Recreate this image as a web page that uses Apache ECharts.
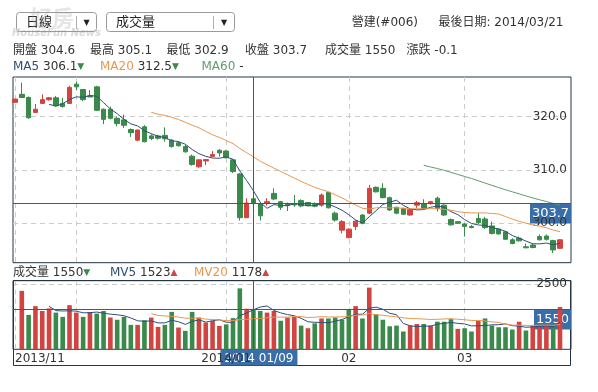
<!DOCTYPE html>
<html><head><meta charset="utf-8">
<script src="https://cdn.jsdelivr.net/npm/echarts@6/dist/echarts.min.js"></script>
<style>html,body{margin:0;padding:0;background:#fff}#c{width:598px;height:392px}</style>
</head><body><div id="c"></div><script>
// ---------- data ----------
const dates = [
 '2013/11/20','2013/11/21','2013/11/22','2013/11/25','2013/11/26','2013/11/27','2013/11/28','2013/11/29',
 '2013/12/02','2013/12/03','2013/12/04','2013/12/05','2013/12/06','2013/12/09','2013/12/10','2013/12/11','2013/12/12','2013/12/13',
 '2013/12/16','2013/12/17','2013/12/18','2013/12/19','2013/12/20','2013/12/23','2013/12/24','2013/12/25','2013/12/26','2013/12/27','2013/12/30','2013/12/31',
 '2014/01/02','2014/01/03','2014/01/06','2014/01/07','2014/01/08','2014/01/09','2014/01/10','2014/01/13','2014/01/14','2014/01/15','2014/01/16','2014/01/17',
 '2014/01/20','2014/01/21','2014/01/22','2014/01/23','2014/01/24','2014/01/27','2014/01/28',
 '2014/02/05','2014/02/06','2014/02/07','2014/02/10','2014/02/11','2014/02/12','2014/02/13','2014/02/14','2014/02/17','2014/02/18','2014/02/19',
 '2014/02/20','2014/02/21','2014/02/24','2014/02/25','2014/02/26','2014/02/27',
 '2014/03/03','2014/03/04','2014/03/05','2014/03/06','2014/03/07','2014/03/10','2014/03/11','2014/03/12','2014/03/13','2014/03/14',
 '2014/03/17','2014/03/18','2014/03/19','2014/03/20','2014/03/21'
];
const open = [
 322.7,324.2,323.6,320.8,322.5,323.2,323.55,322.5,322.5,326.1,
 325.1,323.9,325.6,321.4,321.4,319.7,319.4,317.6,315.6,318.1,
 316.4,316.4,316.5,315.6,315.1,314.4,312.6,310.6,311.7,312.55,
 313.7,313.55,311.9,309.25,301.05,304.6,303.7,303.75,305.6,304.05,
 303.7,303.6,304.25,303.9,303.5,303.4,305.8,301.9,298.7,297.3,
 299.4,301.55,301.9,306.75,306.55,304.8,303.0,302.8,301.55,303.4,
 303.7,303.7,304.7,303.4,300.7,300.3,299.85,299.4,300.9,300.8,
 299.5,298.9,298.4,296.9,297.2,295.6,295.9,297.5,297.6,296.75,295.3
];
const close = [
 323.3,323.6,319.8,321.4,323.2,323.55,322.05,321.9,325.5,325.6,
 323.2,323.7,321.2,319.5,319.7,318.7,318.4,317.0,317.5,315.3,
 315.9,315.95,315.85,314.4,314.55,313.4,311.05,311.9,311.95,312.9,
 313.2,312.3,309.7,301.05,303.8,303.7,301.4,304.05,304.55,303.0,
 303.4,303.45,303.25,303.3,303.2,305.3,302.9,300.6,300.3,298.9,
 300.4,300.0,306.55,305.9,304.8,302.5,301.9,301.7,302.6,303.85,
 302.8,304.05,302.8,301.55,299.7,300.0,299.4,299.2,300.1,299.2,
 298.1,298.0,297.0,296.2,296.7,295.4,295.45,296.9,297.0,295.0,296.9
];
const low = [
 322.6,323.5,319.6,320.7,322.4,323.0,321.9,321.7,322.4,325.0,
 322.9,323.7,321.1,318.6,319.5,318.2,317.9,316.2,315.4,315.2,
 315.6,315.7,315.3,314.2,314.4,313.3,310.8,310.4,310.9,312.4,
 312.5,312.2,309.4,300.5,301.0,302.9,300.5,303.3,304.4,302.5,
 302.3,303.1,303.0,303.2,303.0,303.1,302.8,300.3,298.1,297.2,
 298.7,299.8,301.7,305.8,304.7,302.3,301.7,301.6,301.4,302.9,
 302.6,303.5,302.2,301.4,299.55,299.9,297.5,299.05,299.85,298.9,
 297.9,297.9,296.9,296.05,296.6,295.3,295.3,296.75,296.75,294.4,295.2
];
const high = [
 323.4,326.4,323.8,322.4,324.2,323.7,323.9,323.55,325.8,326.55,
 325.2,325.0,325.8,321.55,321.9,320.0,320.4,317.8,317.6,318.4,
 316.7,316.6,318.0,315.8,315.4,314.7,312.9,312.0,312.05,313.55,
 313.9,313.7,312.05,309.4,304.7,305.1,303.9,304.7,306.55,304.2,
 303.9,305.3,304.5,304.0,303.9,305.6,305.9,302.2,300.6,299.05,
 300.6,301.7,307.2,306.9,307.5,305.0,303.1,302.9,302.8,304.2,
 304.5,304.2,305.0,303.55,300.9,300.4,300.0,299.7,301.9,301.2,
 300.3,299.05,298.55,297.2,297.5,296.2,296.2,297.9,297.9,296.9,297.0
];
const volume = [
 null,
 2249,1324,1661,1474,1574,1412,1249,1698,1412,1249,
 1436,1374,1474,1224,1137,1248,940,940,1120,1222,
 863,940,1440,838,710,1440,1222,1030,1094,901,
 960,1200,2345,1560,1550,1474,1412,1474,1099,1224,
 1249,912,811,999,1187,1187,1224,1137,1537,1661,
 1187,2374,1349,1137,886,912,686,912,974,974,
 912,1062,1062,1161,787,811,686,1099,1187,912,
 849,849,761,1062,724,912,912,912,849,1624
];
// 1 = close above previous close (red volume bar), 0 = below (green)
const volUp = [
 1,
 1,0,1,1,1,0,0,1,1,0,
 1,0,0,1,0,0,0,1,0,1,
 1,0,0,1,0,0,1,1,1,1,
 0,0,0,1,0,0,1,1,0,1,
 1,0,1,0,1,0,0,0,0,1,
 0,1,0,0,0,0,0,1,1,0,
 1,0,0,0,1,0,0,1,0,0,
 0,0,0,1,0,1,1,1,0,1
];
const xTickIndex = [0, 9, 31, 49, 66];
const xTickText  = ['2013/11', '', '2014/01', '02', '03'];
const crossIndex = 35;
const stockName = '營建(#006)';
const lastDate = '2014/03/21';
const priceRange = [292.6, 327.45];
const volRange = [0, 2640];

// ---------- styling ----------
const FONT = '"DejaVu Sans","Noto Sans CJK TC",sans-serif';
const RED = '#d1443f', GREEN = '#3a8a4b';
const C_MA5 = '#2f4d78', C_MA20 = '#e8964e', C_MA60 = '#5f9c6c';
const BORDER = '#243545', GRIDC = '#cccccc', CROSS = '#3f5b73', BOX = '#3a6ea8', TXT = '#333333';

function ma(arr, n) {
  return arr.map((v, i) => {
    if (i < n) return '-';
    let s = 0;
    for (let k = i - n + 1; k <= i; k++) { if (arr[k] == null) return '-'; s += arr[k]; }
    return s / n;
  });
}
const ma5 = ma(close, 5), ma20 = ma(close, 20), ma60 = ma(close, 60);
const mv5 = ma(volume, 5), mv20 = ma(volume, 20);
const ohlc = open.map((o, i) => [o, close[i], low[i], high[i]]);
const volData = volume.map((v, i) => v == null ? '-' : { value: v, itemStyle: { color: volUp[i] ? RED : GREEN } });
const tickSet = new Set(xTickIndex);
const labelOf = {}; xTickIndex.forEach((k, j) => { if (xTickText[j]) labelOf[k] = xTickText[j]; });

const chart = echarts.init(document.getElementById('c'));
const dash = { color: GRIDC, type: [5, 4], width: 1 };
const hideAx = { show: false };
const crossLine = (obj) => ({ symbol: ['none', 'none'], silent: true, animation: false, label: { show: false },
  lineStyle: { color: CROSS, width: 1, type: 'solid' }, data: [obj] });
const lineS = (name, data, color, xi, yi) => ({ name, type: 'line', data, xAxisIndex: xi, yAxisIndex: yi,
  showSymbol: false, symbol: 'none', lineStyle: { color, width: 1 }, itemStyle: { color }, silent: true, z: 3 });

chart.setOption({
  animation: false,
  grid: [
    { left: 13, top: 77, width: 558, height: 185.7, show: true, borderColor: BORDER, borderWidth: 1 },
    { left: 15, top: 77, width: 545, height: 185.7 },
    { left: 13, top: 280.7, width: 558, height: 68.6, show: true, borderColor: BORDER, borderWidth: 1 },
    { left: 15, top: 280.7, width: 545, height: 68.6 }
  ],
  xAxis: [
    { gridIndex: 0, type: 'value', min: 0, max: 1, show: false },
    { gridIndex: 1, type: 'category', data: dates, boundaryGap: false, axisLine: hideAx, axisTick: hideAx, axisLabel: hideAx,
      splitLine: { show: true, interval: (i) => tickSet.has(i), lineStyle: dash } },
    { gridIndex: 2, type: 'value', min: 0, max: 1, show: false },
    { gridIndex: 3, type: 'category', data: dates, boundaryGap: false, axisLine: hideAx, axisTick: hideAx,
      axisLabel: { show: true, interval: (i) => !!labelOf[i], formatter: (v, i) => labelOf[i] || '', color: TXT,
        fontSize: 12, fontFamily: FONT, margin: 4, alignMinLabel: 'left' },
      splitLine: { show: true, interval: (i) => tickSet.has(i), lineStyle: dash } }
  ],
  yAxis: [
    { gridIndex: 0, type: 'value', min: priceRange[0], max: priceRange[1], position: 'right', splitNumber: 4,
      minInterval: 10, maxInterval: 10, axisLine: hideAx, axisTick: hideAx,
      axisLabel: { inside: true, margin: 4, color: TXT, fontSize: 12, fontFamily: FONT, showMinLabel: false, showMaxLabel: false,
        formatter: (v) => Math.abs(v % 10) < 1e-6 ? v.toFixed(1) : '' },
      splitLine: { show: true, lineStyle: dash, showMinLine: false, showMaxLine: false } },
    { gridIndex: 1, type: 'value', min: priceRange[0], max: priceRange[1], show: false, splitLine: hideAx },
    { gridIndex: 2, type: 'value', min: volRange[0], max: volRange[1], position: 'right', splitNumber: 1,
      minInterval: 2500, maxInterval: 2500, axisLine: hideAx, axisTick: hideAx,
      axisLabel: { inside: true, margin: 4, color: TXT, fontSize: 12, fontFamily: FONT, showMinLabel: false, showMaxLabel: false,
        padding: [5, 0, 0, 0], formatter: (v) => v === 2500 ? '2500' : '' },
      splitLine: { show: true, lineStyle: dash, showMinLine: false, showMaxLine: false } },
    { gridIndex: 3, type: 'value', min: volRange[0], max: volRange[1], show: false, splitLine: hideAx }
  ],
  series: [
    { type: 'line', xAxisIndex: 0, yAxisIndex: 0, data: [], markLine: crossLine({ yAxis: close[crossIndex] }) },
    { type: 'candlestick', xAxisIndex: 1, yAxisIndex: 1, data: ohlc, barWidth: 5, clip: false, silent: true,
      itemStyle: { color: RED, color0: GREEN, borderColor: RED, borderColor0: GREEN, borderWidth: 1 },
      markLine: crossLine({ xAxis: dates[crossIndex] }) },
    lineS('MA5', ma5, C_MA5, 1, 1),
    lineS('MA20', ma20, C_MA20, 1, 1),
    lineS('MA60', ma60, C_MA60, 1, 1),
    { type: 'line', xAxisIndex: 2, yAxisIndex: 2, data: [], markLine: crossLine({ yAxis: volume[crossIndex] }) },
    { type: 'bar', xAxisIndex: 3, yAxisIndex: 3, data: volData, barWidth: 4.6, clip: false, silent: true,
      markLine: crossLine({ xAxis: dates[crossIndex] }) },
    lineS('MV5', mv5, C_MA5, 3, 3),
    lineS('MV20', mv20, C_MA20, 3, 3)
  ]
});

// ---------- header, labels ----------
const ci = crossIndex;
const f1 = (v) => v.toFixed(1);
const arrow = (cur, prev) => cur >= prev ? '{up|▲}' : '{dn|▼}';
const richBase = {
  t: { fill: TXT, fontSize: 12, fontFamily: FONT },
  b: { fill: C_MA5, fontSize: 12, fontFamily: FONT },
  o: { fill: C_MA20, fontSize: 12, fontFamily: FONT },
  g: { fill: C_MA60, fontSize: 12, fontFamily: FONT },
  up: { fill: RED, fontSize: 9, fontFamily: FONT },
  dn: { fill: GREEN, fontSize: 9, fontFamily: FONT }
};
const txt = (x, y, text, align) => ({ type: 'text', x, y, silent: true,
  style: { text, rich: richBase, fill: TXT, font: '12px ' + FONT, align: align || 'left', verticalAlign: 'middle' } });

const chg = close[ci] - close[ci - 1];
const px = chart.convertToPixel({ xAxisIndex: 3 }, dates[ci]);
const py = chart.convertToPixel({ yAxisIndex: 0 }, close[ci]);
const vy = chart.convertToPixel({ yAxisIndex: 2 }, volume[ci]);
const dateLbl = dates[ci].replace(/^(\d{4})\/(\d\d)\/(\d\d)$/, '$1 $2/$3');

const dropdown = (x, w, label, divX) => ({ type: 'group', silent: true, children: [
  { type: 'rect', shape: { x: x + 0.5, y: 12.5, width: w, height: 19, r: 3 }, style: { fill: '#fff', stroke: '#9a9a9a', lineWidth: 1 } },
  { type: 'line', shape: { x1: divX + 0.5, y1: 16, x2: divX + 0.5, y2: 29 }, style: { stroke: '#b0b0b0', lineWidth: 1 } },
  { type: 'text', x: x + 10, y: 22.5, style: { text: label, fill: '#222', font: '13px ' + FONT, verticalAlign: 'middle' } },
  { type: 'text', x: divX + (x + w - divX) / 2 + 0.5, y: 23, style: { text: '▼', fill: '#222', font: '8px ' + FONT, align: 'center', verticalAlign: 'middle' } }
]});

chart.setOption({ graphic: [
  dropdown(16, 80, '日線', 76),
  dropdown(106, 128, '成交量', 213),
  { type: 'text', x: 30, y: 20, silent: true, style: { text: '好房', fill: 'rgba(160,160,160,0.28)', font: 'bold 22px ' + FONT, verticalAlign: 'middle' } },
  { type: 'text', x: 12, y: 33, silent: true, style: { text: 'HouseFun News', fill: 'rgba(150,150,150,0.35)', font: 'italic bold 10px ' + FONT, verticalAlign: 'middle' } },
  txt(418, 22.5, stockName, 'right'),
  txt(563.5, 22.5, '最後日期: ' + lastDate, 'right'),
  txt(13, 50.5, '開盤 ' + f1(open[ci])),
  txt(90, 50.5, '最高 ' + f1(high[ci])),
  txt(166.5, 50.5, '最低 ' + f1(low[ci])),
  txt(245, 50.5, '收盤 ' + f1(close[ci])),
  txt(325, 50.5, '成交量 ' + volume[ci]),
  txt(406.5, 50.5, '漲跌 ' + f1(chg)),
  txt(13, 66.5, '{b|MA5} {t|' + f1(ma5[ci]) + '}' + arrow(ma5[ci], ma5[ci - 1])),
  txt(100, 66.5, '{o|MA20} {t|' + f1(ma20[ci]) + '}' + arrow(ma20[ci], ma20[ci - 1])),
  txt(201.5, 66.5, '{g|MA60} {t|' + (ma60[ci] === '-' ? '-' : f1(ma60[ci])) + '}'),
  txt(13, 272.5, '{t|成交量 ' + volume[ci] + '}' + arrow(volume[ci], volume[ci - 1])),
  txt(110, 272.5, '{b|MV5} {t|' + Math.round(mv5[ci]) + '}' + arrow(mv5[ci], mv5[ci - 1])),
  txt(194, 272.5, '{o|MV20} {t|' + Math.round(mv20[ci]) + '}' + arrow(mv20[ci], mv20[ci - 1])),
  // outer frame of volume panel incl. date strip
  { type: 'rect', silent: true, shape: { x: 13.5, y: 280.5, width: 557, height: 85 }, style: { fill: 'none', stroke: BORDER, lineWidth: 1 } },
  // value boxes on the crosshair
  { type: 'group', silent: true, children: [
    { type: 'rect', shape: { x: 530, y: py, width: 41, height: 20 }, style: { fill: BOX } },
    { type: 'text', x: 550.5, y: py + 10.5, style: { text: f1(close[ci]), fill: '#fff', font: '13px ' + FONT, align: 'center', verticalAlign: 'middle' } }
  ]},
  { type: 'group', silent: true, children: [
    { type: 'rect', shape: { x: 534, y: vy, width: 37, height: 20.5 }, style: { fill: BOX } },
    { type: 'text', x: 552.5, y: vy + 10.5, style: { text: String(volume[ci]), fill: '#fff', font: '13px ' + FONT, align: 'center', verticalAlign: 'middle' } }
  ]},
  { type: 'group', silent: true, children: [
    { type: 'rect', shape: { x: px - 33, y: 350, width: 77, height: 15.5 }, style: { fill: BOX } },
    { type: 'text', x: px + 5.5, y: 358.5, style: { text: dateLbl, fill: '#fff', font: '12px ' + FONT, align: 'center', verticalAlign: 'middle' } }
  ]}
]});
</script></body></html>
